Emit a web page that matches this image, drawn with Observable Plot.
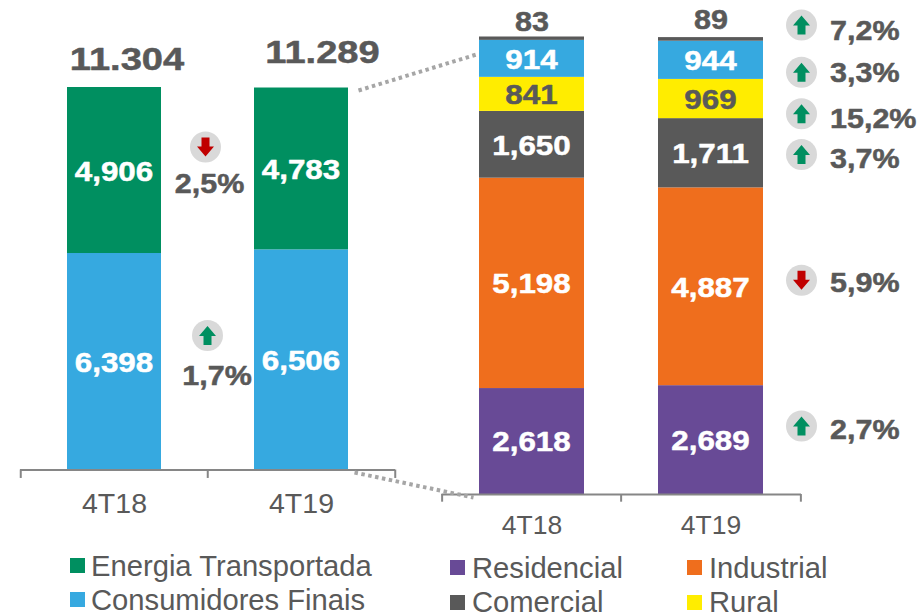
<!DOCTYPE html>
<html>
<head>
<meta charset="utf-8">
<script src="https://cdn.jsdelivr.net/npm/d3@7"></script>
<script src="https://cdn.jsdelivr.net/npm/@observablehq/plot@0.6"></script>
<style>
  html, body { margin: 0; padding: 0; background: #fff; }
  #chart { position: relative; width: 919px; height: 614px; overflow: hidden; font-family: "Liberation Sans", Arial, sans-serif; color: #595959; }
  #chart svg { position: absolute; left: 0; top: 0; }
  .lg { position: absolute; font-size: 29.2px; line-height: 24px; white-space: nowrap; }
  .sw { position: absolute; width: 15px; height: 15px; }
</style>
</head>
<body>
<div id="chart"></div>
<script>
// ---------- data ----------
const quarters = ["4T18", "4T19"];

const consumidoresFinais = [6398, 6506];
const energiaTransportada = [4906, 4783];

const residencial = [2618, 2689];
const industrial = [5198, 4887];
const comercial = [1650, 1711];
const rural = [841, 969];
const poderPublico = [914, 944];
const outros = [83, 89];

const leftChange = ["1,7%", "2,5%"];
const leftDir = ["up", "down"];
const rightChange = ["2,7%", "5,9%", "3,7%", "15,2%", "3,3%", "7,2%"];
const rightDir = ["up", "down", "up", "up", "up", "up"];

// ---------- styles ----------
const TXT = "#595959", GREEN = "#008F60", BLUE = "#36A9E0", ORANGE = "#EF6E1D",
      PURPLE = "#684A96", YELLOW = "#FFED00", RED = "#C00000", BADGE = "#D9D9D9", AXIS = "#868686";
const FONT = "Liberation Sans, Arial, sans-serif";

const leftNames = ["Consumidores Finais", "Energia Transportada"];
const leftColors = [BLUE, GREEN];
const rightNames = ["Residencial", "Industrial", "Comercial", "Rural", "Poder Publico", "Outros"];
const rightColors = [PURPLE, ORANGE, TXT, YELLOW, BLUE, TXT];

const fmt = d3.format(",");
const rowsOf = (names, lists) => names.flatMap((s, i) =>
  quarters.map((q, j) => ({ q, series: s, value: lists[i][j] })));

const leftRows = rowsOf(leftNames, [consumidoresFinais, energiaTransportada]);
const rightRows = rowsOf(rightNames, [residencial, industrial, comercial, rural, poderPublico, outros]);

const totalOf = (lists, j) => d3.sum(lists, l => l[j]);
const leftTotals = quarters.map((_, j) => totalOf([consumidoresFinais, energiaTransportada], j));
const rightTotalsMax = d3.max(quarters.map((_, j) => totalOf([residencial, industrial, comercial, rural, poderPublico, outros], j)));

// midpoint of a segment, in value units
function mids(lists, j) {
  let c = 0;
  return lists.map(l => { const m = c + l[j] / 2; c += l[j]; return m; });
}

const arrowUp = { draw(c) { c.moveTo(0,-9.5); c.lineTo(8.5,0.5); c.lineTo(4,0.5); c.lineTo(4,9.5); c.lineTo(-4,9.5); c.lineTo(-4,0.5); c.lineTo(-8.5,0.5); c.closePath(); } };
const arrowDown = { draw(c) { c.moveTo(0,9.5); c.lineTo(8.5,-0.5); c.lineTo(4,-0.5); c.lineTo(4,-9.5); c.lineTo(-4,-9.5); c.lineTo(-4,-0.5); c.lineTo(-8.5,-0.5); c.closePath(); } };

function badge(q, v, dir, dx, dy) {
  const d = [{ q, v }];
  return [
    Plot.dot(d, { x: "q", y: "v", r: 15.5, fill: BADGE, dx, dy }),
    Plot.dot(d, { x: "q", y: "v", r: 5, symbol: dir === "up" ? arrowUp : arrowDown, fill: dir === "up" ? GREEN : RED, dx, dy })
  ];
}
function note(q, v, text, dx, dy, size, anchor) {
  return Plot.text([{ q, v, text }], {
    x: "q", y: "v", text: "text", dx, dy, fontSize: size, fontWeight: "bold", fill: TXT,
    stroke: TXT, strokeWidth: 0.5, textAnchor: anchor || "middle"
  });
}
function segLabels(rows, dy) {
  return [
    Plot.text(rows, Plot.stackY({ x: "q", y: "value", dx: -0.5, dy, fontSize: 28, fontWeight: "bold", fill: "#fff", stroke: "#fff", strokeWidth: 0.5,
      text: d => (d.value < 100 || d.series === "Rural") ? null : fmt(d.value) })),
    Plot.text(rows, Plot.stackY({ x: "q", y: "value", dx: -0.5, dy, fontSize: 28, fontWeight: "bold", fill: TXT, stroke: TXT, strokeWidth: 0.5,
      text: d => d.series === "Rural" ? fmt(d.value) : null }))
  ];
}

// ---------- left panel ----------
const leftMids = mids([consumidoresFinais, energiaTransportada], 0);
const leftTick = 250;
const leftStep = 187.5;
const left = Plot.plot({
  width: 919, height: 614,
  marginLeft: 20, marginRight: 524, marginTop: 87, marginBottom: 144.5,
  style: { background: "transparent", fontFamily: FONT },
  x: { domain: quarters, paddingInner: 0.5, paddingOuter: 0.25, label: null },
  y: { domain: [0, d3.max(leftTotals)], axis: null },
  color: { domain: leftNames, range: leftColors },
  marks: [
    Plot.barY(leftRows, { x: "q", y: "value", fill: "series" }),
    ...segLabels(leftRows, 1.5),
    Plot.ruleY([0], { stroke: AXIS, strokeWidth: 2 }),
    Plot.ruleX(quarters, { x: d => d, y1: 0, y2: -leftTick, dx: -leftStep / 2, stroke: AXIS, strokeWidth: 2 }),
    Plot.ruleX(quarters.slice(-1), { x: d => d, y1: 0, y2: -leftTick, dx: leftStep / 2, stroke: AXIS, strokeWidth: 2 }),
    Plot.axisX({ tickSize: 0, tickPadding: 23, fontSize: 28.5, fill: TXT, label: null }),
    note(quarters[0], leftTotals[0], "11.304", 12.5, -28, 32),
    note(quarters[1], leftTotals[1], "11.289", 21, -35, 32),
    ...badge(quarters[0], leftMids[1], leftDir[1], 91, -23.5),
    note(quarters[0], leftMids[1], leftChange[1], 95, 14, 28),
    ...badge(quarters[0], leftMids[0], leftDir[0], 93, -26.2),
    note(quarters[0], leftMids[0], leftChange[0], 102.5, 14, 28)
  ]
});

// ---------- right panel ----------
const rightLists = [residencial, industrial, comercial, rural, poderPublico, outros];
const rightMids = mids(rightLists, 1);
const badgeDy = [-14.1, -6.5, 1.2, 14.7, 11.9, -14.3];
const textDy = [-9.6, -3.3, 6.2, 20.5, 13.2, -8.3];
const rightTick = 190;
const rightStep = 179.75;
const right = Plot.plot({
  width: 919, height: 614,
  marginLeft: 441.5, marginRight: 118, marginTop: 36.5, marginBottom: 120,
  style: { background: "transparent", fontFamily: FONT },
  x: { domain: quarters, paddingInner: 0.412, paddingOuter: 0.206, label: null },
  y: { domain: [0, rightTotalsMax], axis: null },
  color: { domain: rightNames, range: rightColors },
  marks: [
    Plot.barY(rightRows, { x: "q", y: "value", fill: "series" }),
    ...segLabels(rightRows, 1),
    note(quarters[0], d3.sum(rightLists, l => l[0]), fmt(outros[0]), 0, -15, 28),
    note(quarters[1], d3.sum(rightLists, l => l[1]), fmt(outros[1]), 0, -18, 28),
    Plot.ruleY([0], { stroke: AXIS, strokeWidth: 2 }),
    Plot.ruleX(quarters, { x: d => d, y1: 0, y2: -rightTick, dx: -rightStep / 2, stroke: AXIS, strokeWidth: 2 }),
    Plot.ruleX(quarters.slice(-1), { x: d => d, y1: 0, y2: -rightTick, dx: rightStep / 2, stroke: AXIS, strokeWidth: 2 }),
    Plot.axisX({ tickSize: 0, tickPadding: 21, fontSize: 26.5, fill: TXT, label: null }),
    ...rightChange.flatMap((t, i) => [
      ...badge(quarters[1], rightMids[i], rightDir[i], 90.5, badgeDy[i]),
      note(quarters[1], rightMids[i], t, 119, textDy[i], 28, "start")
    ])
  ]
});

// ---------- connectors (endpoints come from the two panels' scales) ----------
const lx = left.scale("x"), ly = left.scale("y"), rx = right.scale("x"), ry = right.scale("y");
const connectors = [
  { x1: lx.apply(quarters[1]) + lx.bandwidth + 10, y1: ly.apply(leftTotals[1]) + 2.5, x2: rx.apply(quarters[0]) - 3, y2: ry.apply(rightTotalsMax) + 17.5 },
  { x1: lx.apply(quarters[1]) + lx.bandwidth + 6, y1: ly.apply(0) + 2.5, x2: rx.apply(quarters[0]) - 6, y2: ry.apply(0) + 3 }
];
const links = Plot.plot({
  width: 919, height: 614, margin: 0,
  style: { background: "transparent" },
  x: { type: "identity", axis: null }, y: { type: "identity", axis: null },
  marks: [Plot.link(connectors, { x1: "x1", y1: "y1", x2: "x2", y2: "y2", stroke: "#A6A6A6", strokeWidth: 4, strokeDasharray: "3.5,3.5" })]
});

const chart = document.getElementById("chart");
chart.append(left, right, links);

// the reference's bold figures are drawn wider than the font's natural width
for (const panel of [left, right]) {
  for (const t of panel.querySelectorAll('g[aria-label="text"] text')) {
    const s = t.textContent;
    const k = s.includes("%") ? 1.09 : s.includes(".") ? 1.19 : s.length === 2 ? 1.09 : 1.12;
    t.setAttribute("transform", (t.getAttribute("transform") || "") + ` scale(${k},1)`);
  }
}

// ---------- legends ----------
const legendItems = [
  ["Energia Transportada", GREEN, 70, 558, 91, 554],
  ["Consumidores Finais", BLUE, 70, 592, 91, 588],
  ["Residencial", PURPLE, 450, 560, 472, 556],
  ["Industrial", ORANGE, 687, 560, 709, 556],
  ["Comercial", TXT, 450, 595, 472, 590],
  ["Rural", YELLOW, 687, 595, 709, 590]
];
for (const [name, color, sx, sy, tx, ty] of legendItems) {
  const s = document.createElement("div");
  s.className = "sw"; s.style.cssText = `left:${sx}px;top:${sy}px;background:${color}`;
  const t = document.createElement("div");
  t.className = "lg"; t.textContent = name; t.style.cssText = `left:${tx}px;top:${ty}px`;
  chart.append(s, t);
}
</script>
</body>
</html>
